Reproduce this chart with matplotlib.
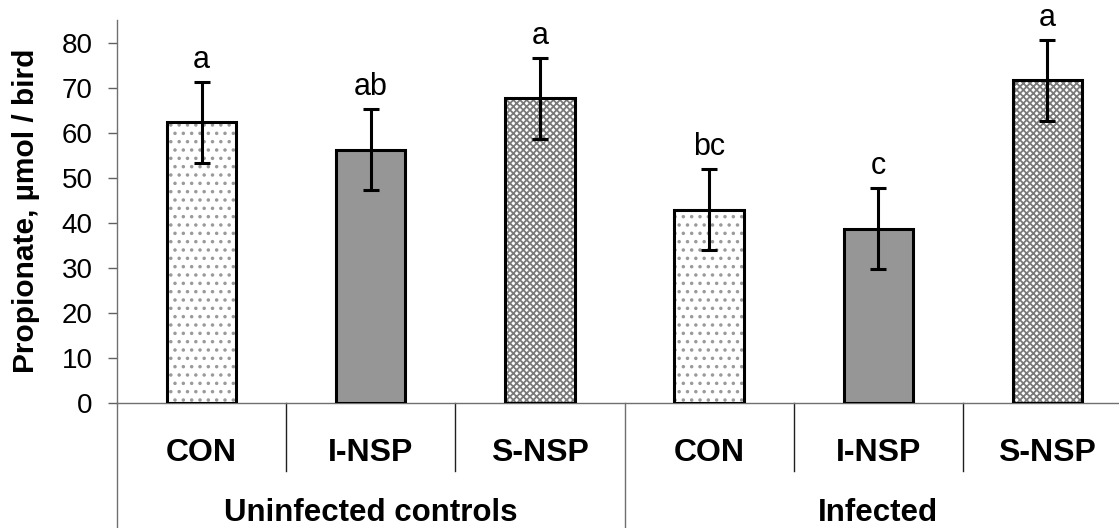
#
#   Propionate per bird, grouped bar chart with SE bars and letter groups
#   Output: out.png
#

import numpy as np
import matplotlib
matplotlib.use("Agg")
import matplotlib.pyplot as plt
import matplotlib.transforms as mtransforms

plt.rcParams["font.family"] = ["Liberation Sans", "DejaVu Sans"]
plt.rcParams["hatch.linewidth"] = 1.3

GROUPS = ["Uninfected controls", "Infected"]
DIETS = ["CON", "I-NSP", "S-NSP"]
propionate = [62.3, 56.2, 67.6, 42.9, 38.7, 71.6]
sem = [9.0, 9.0, 8.9, 9.0, 9.0, 9.0]
letters = ["a", "ab", "a", "bc", "c", "a"]
YTICKS = [0, 10, 20, 30, 40, 50, 60, 70, 80]

# facecolor, hatch, hatch colour
DIET_STYLE = {
    "CON": ("white", "..", "#9a9a9a"),
    "I-NSP": ("#969696", None, "#969696"),
    "S-NSP": ("white", "xxxxx", "#7a7a7a"),
}

W, H = 1119, 528
Y0 = 403.3     # pixel row of y=0
AX_H = 383.3   # pixel height of the axes


def px_to_axes(row):
    # pixel row (from top) -> axes fraction
    return (Y0 - row) / AX_H


def main():
    fig = plt.figure(figsize=(W / 100, H / 100), dpi=100)
    ax = fig.add_axes([117 / W, 1 - Y0 / H, 1015 / W, AX_H / H])

    x = np.arange(len(propionate))
    bw = 0.41
    for i, val in enumerate(propionate):
        fc, hatch, hc = DIET_STYLE[DIETS[i % 3]]
        ax.bar(x[i], val, width=bw, facecolor=fc, hatch=hatch,
               edgecolor=hc, linewidth=0, zorder=2)
        ax.bar(x[i], val, width=bw, fill=False, edgecolor="black",
               linewidth=2.2, zorder=3)

    ax.errorbar(x, propionate, yerr=sem, fmt="none", ecolor="black",
                elinewidth=2.2, capsize=5.5, capthick=2.2, zorder=4)

    for xi, v, e, lab in zip(x, propionate, sem, letters):
        ax.annotate(lab, (xi, v + e), xytext=(0, 10),
                    textcoords="offset points", ha="center",
                    va="baseline", fontsize=22)

    ax.set_xlim(-0.5, 5.5)
    ax.set_ylim(0, 85)
    ax.set_yticks(YTICKS)
    ax.set_xticks([])
    ax.tick_params(axis="y", direction="out", length=6.5, width=1,
                   pad=11, labelsize=20, color="#606060")
    for s in ["top", "right"]:
        ax.spines[s].set_visible(False)
    for s in ["left", "bottom"]:
        ax.spines[s].set_color("#707070")
        ax.spines[s].set_linewidth(1)

    trans = mtransforms.blended_transform_factory(ax.transData, ax.transAxes)

    # separators under the axis
    for xs in [0.5, 1.5, 3.5, 4.5]:
        ax.plot([xs, xs], [0, px_to_axes(471)], color="#202020", lw=1,
                transform=trans, clip_on=False)
    for xs in [-0.5, 2.5, 5.5]:
        ax.plot([xs, xs], [0, px_to_axes(540)], color="#707070", lw=1,
                transform=trans, clip_on=False)

    for i in range(len(propionate)):
        ax.text(x[i], px_to_axes(461), DIETS[i % 3], transform=trans,
                ha="center", va="baseline", fontsize=23, fontweight="bold")
    for g, name in enumerate(GROUPS):
        ax.text(g * 3 + 1, px_to_axes(521), name, transform=trans,
                ha="center", va="baseline", fontsize=22.5, fontweight="bold")

    fig.text(26 / W, 1 - 211 / H, "Propionate, µmol / bird", rotation=90,
             ha="center", va="center", fontsize=21.5, fontweight="bold")

    fig.savefig("out.png", dpi=100)
    plt.close(fig)


if __name__ == "__main__":
    main()
